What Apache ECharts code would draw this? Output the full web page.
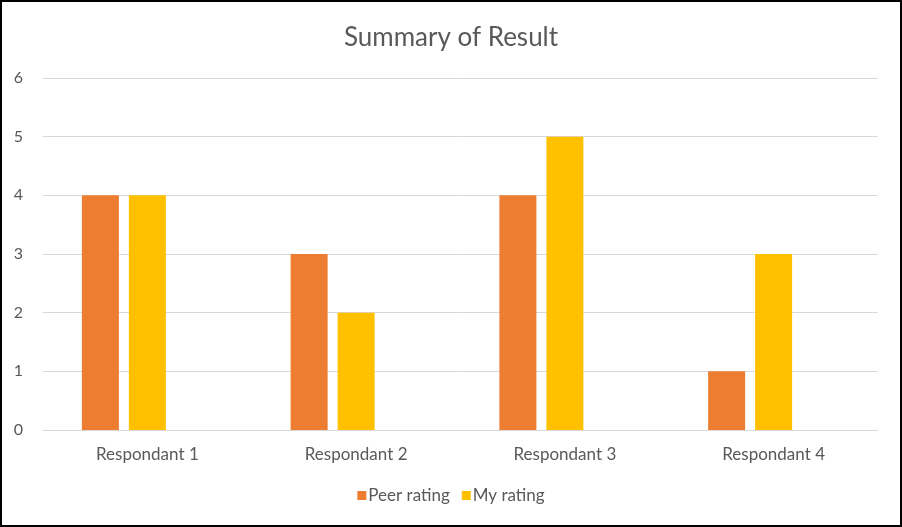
<!DOCTYPE html>
<html>
<head>
<meta charset="utf-8">
<script src="https://cdn.jsdelivr.net/npm/echarts@6/dist/echarts.min.js"></script>
<style>
html,body{margin:0;padding:0;background:#fff;}
#chart{width:902px;height:527px;}
</style>
</head>
<body>
<div id="chart"></div>
<script>
const categories = ['Respondant 1', 'Respondant 2', 'Respondant 3', 'Respondant 4'];
const peerRating = [4, 3, 4, 1];
const myRating = [4, 2, 5, 3];
const thirdSeries = [null, null, null, null];
const yTicks = [0, 1, 2, 3, 4, 5, 6];

const chart = echarts.init(document.getElementById('chart'), null, {renderer: 'canvas'});
const font = 'Lato, "Open Sans", sans-serif';
chart.setOption({
  animation: false,
  backgroundColor: '#fff',
  title: {
    text: 'Summary of Result',
    left: 'center',
    top: 20,
    textStyle: {fontFamily: font, fontSize: 26, fontWeight: 'normal', color: '#595959'}
  },
  legend: {
    data: ['Peer rating', 'My rating'],
    bottom: 18,
    left: 'center',
    itemWidth: 9,
    itemHeight: 9,
    itemGap: 12,
    icon: 'rect',
    textStyle: {fontFamily: font, fontSize: 17, color: '#595959', padding: [0, 0, 0, -3]}
  },
  grid: {left: 43, right: 24, top: 78, bottom: 97},
  xAxis: {
    type: 'category',
    data: categories,
    axisLine: {lineStyle: {color: '#d9d9d9', width: 1}},
    axisTick: {show: false},
    axisLabel: {fontFamily: font, fontSize: 17, color: '#595959', margin: 16}
  },
  yAxis: {
    type: 'value',
    min: yTicks[0],
    max: yTicks[yTicks.length - 1],
    interval: 1,
    axisLine: {show: false},
    axisTick: {show: false},
    splitLine: {lineStyle: {color: '#d9d9d9', width: 1}},
    axisLabel: {fontFamily: font, fontSize: 16, color: '#595959', margin: 20, align: 'right'}
  },
  series: [
    {name: 'Peer rating', type: 'bar', data: peerRating, barWidth: 37, barGap: '27%', itemStyle: {color: '#ED7D31'}},
    {name: 'My rating', type: 'bar', data: myRating, barWidth: 37, barGap: '27%', itemStyle: {color: '#FFC000'}},
    {name: 'Series3', type: 'bar', data: thirdSeries, barWidth: 37, barGap: '27%', itemStyle: {color: '#A5A5A5'}}
  ],
  graphic: [{
    type: 'rect',
    shape: {x: 1, y: 1, width: 900, height: 525},
    style: {fill: null, stroke: '#000', lineWidth: 2},
    z: 100
  }]
});
</script>
</body>
</html>
